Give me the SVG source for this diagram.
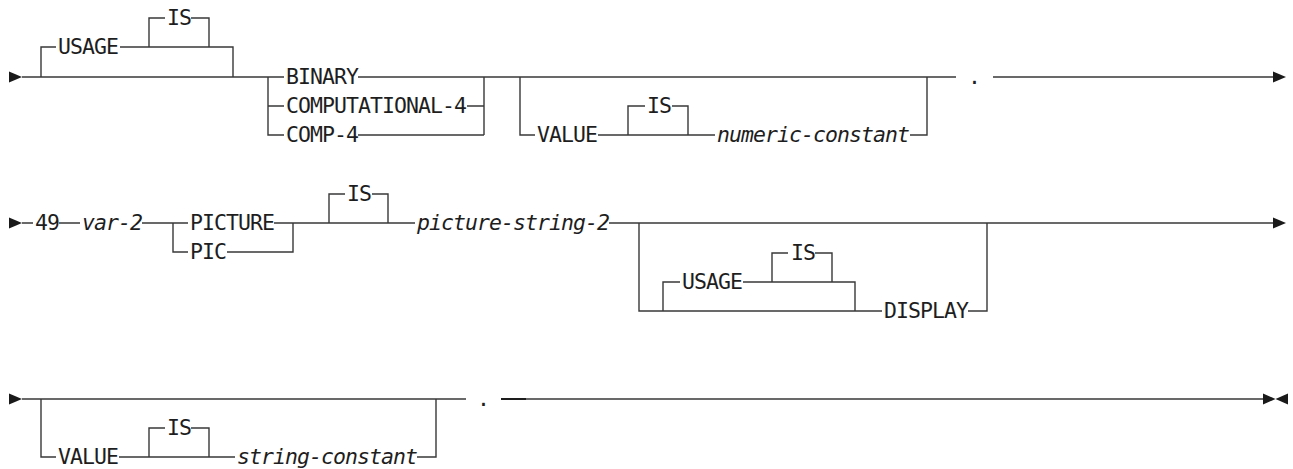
<svg xmlns="http://www.w3.org/2000/svg" width="1293" height="469" viewBox="0 0 1293 469">
<style>
.c{fill:none;stroke:#383838;stroke-width:1.4}
.a{fill:#1a1a1a}
.t{font-family:"DejaVu Sans Mono","Liberation Mono",monospace;font-size:21.5px;letter-spacing:-0.94px;fill:#1e1e1e}
.i{font-style:italic}
</style>
<rect width="1293" height="469" fill="#fff"/>
<g id="connectors">
<path class="c" d="M22,77H284 M41,77V47H56 M120,47H233V77 M149,47V18H165 M191,18H209V47 M268,77V135H284 M268,106H284 M358,77H956 M467,106H484 M358,135H484 M484,77V135 M520,77V135H535 M598,135H715 M628,135V106H645 M672,106H688V135 M910,135H927V77 M993,77H1275"/>
<path class="c" d="M22,223H33 M59,223H80 M142,223H188 M173,223V252H188 M274,223H415 M227,252H293V223 M329,223V194H345 M372,194H388V223 M609,223H1275 M639,223V311H882 M663,311V282H680 M743,282H855V311 M772,282V253H788 M815,253H832V282 M968,311H987V223"/>
<path class="c" d="M22,399H466 M41,399V457H56 M119,457H235 M149,457V428H165 M191,428H209V457 M417,457H436V399 M501,399H1264"/>
<path class="c" d="M501,399H526" style="stroke-width:1.9;stroke:#1a1a1a"/>
<polygon class="a" points="9,71.5 22,77 9,82.5"/>
<polygon class="a" points="1273,71.5 1286,77 1273,82.5"/>
<polygon class="a" points="9,217.5 22,223 9,228.5"/>
<polygon class="a" points="1273,217.5 1286,223 1273,228.5"/>
<polygon class="a" points="9,393.5 22,399 9,404.5"/>
<polygon class="a" points="1263,393.5 1275.5,399 1263,404.5"/>
<polygon class="a" points="1288,393.5 1275.5,399 1288,404.5"/>
</g>
<g id="n-usage1"><text class="t" x="58" y="54">USAGE</text></g>
<g id="n-is1"><text class="t" x="167" y="25">IS</text></g>
<g id="n-binary"><text class="t" x="286" y="84">BINARY</text></g>
<g id="n-comp4long"><text class="t" x="286" y="113">COMPUTATIONAL-4</text></g>
<g id="n-comp4"><text class="t" x="286" y="142">COMP-4</text></g>
<g id="n-value1"><text class="t" x="537" y="142">VALUE</text></g>
<g id="n-is2"><text class="t" x="647" y="113">IS</text></g>
<g id="n-numconst"><text class="t i" x="717" y="142">numeric-constant</text></g>
<g id="n-dot1"><text class="t" x="968" y="84">.</text></g>
<g id="n-49"><text class="t" x="35" y="230">49</text></g>
<g id="n-var2"><text class="t i" x="82" y="230">var-2</text></g>
<g id="n-picture"><text class="t" x="190" y="230">PICTURE</text></g>
<g id="n-pic"><text class="t" x="190" y="259">PIC</text></g>
<g id="n-is3"><text class="t" x="347" y="201">IS</text></g>
<g id="n-picstr"><text class="t i" x="417" y="230">picture-string-2</text></g>
<g id="n-usage2"><text class="t" x="682" y="289">USAGE</text></g>
<g id="n-is4"><text class="t" x="791" y="260">IS</text></g>
<g id="n-display"><text class="t" x="884" y="318">DISPLAY</text></g>
<g id="n-value2"><text class="t" x="58" y="464">VALUE</text></g>
<g id="n-is5"><text class="t" x="167" y="435">IS</text></g>
<g id="n-strconst"><text class="t i" x="237" y="464">string-constant</text></g>
<g id="n-dot2"><text class="t" x="477" y="406">.</text></g>
</svg>
